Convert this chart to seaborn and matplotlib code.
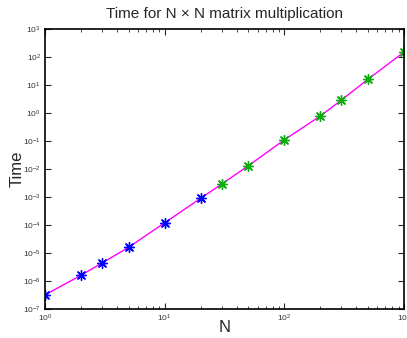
import numpy as np
import pandas as pd
import seaborn as sns
import matplotlib
matplotlib.use('Agg')
import matplotlib.pyplot as plt

# 행렬 크기 N 과 걸린 시간
n_blue = [1, 2, 3, 5, 10, 20]
t_blue = [3.2e-7, 1.6e-6, 4.4e-6, 1.6e-5, 1.2e-4, 9.0e-4]
n_green = [30, 50, 100, 200, 300, 500, 1000]
t_green = [2.9e-3, 1.3e-2, 0.11, 0.78, 2.9, 16, 150]

df_blue = pd.DataFrame({'N': n_blue, 'Time': t_blue})
df_green = pd.DataFrame({'N': n_green, 'Time': t_green})
df_all = pd.concat([df_blue, df_green], ignore_index=True)

sns.set_style('ticks')
plt.rcParams['font.family'] = ['Liberation Sans', 'DejaVu Sans']

fig = plt.figure(figsize=(4.07, 3.38), dpi=100)
ax = fig.add_axes([0.1106, 0.0858, 0.882, 0.8284])

sns.lineplot(data=df_all, x='N', y='Time', color='#ff00ff', linewidth=1, ax=ax, zorder=1)
sns.scatterplot(data=df_blue, x='N', y='Time', color='#0000ff', marker=(8, 2, 0), s=50,
                linewidth=1, edgecolor='#0000ff', ax=ax, zorder=2)
sns.scatterplot(data=df_green, x='N', y='Time', color='#11aa11', marker=(8, 2, 0), s=50,
                linewidth=1, edgecolor='#11aa11', ax=ax, zorder=2)

ax.set_xscale('log')
ax.set_yscale('log')
ax.set_xlim(1, 1000)
ax.set_ylim(1e-7, 1e3)
ax.set_yticks([10.0 ** k for k in range(-7, 4)])

for s in ax.spines.values():
    s.set_linewidth(1.2)
    s.set_color('black')
ax.tick_params(which='both', direction='in', top=True, right=True, labelsize=6, pad=3,
               labelcolor='#333333')
ax.tick_params(which='major', length=4)
ax.tick_params(which='minor', length=2)

ax.set_title('Time for N × N matrix multiplication', fontsize=11, pad=8)
ax.set_xlabel('N', fontsize=12, labelpad=-3)
ax.set_ylabel('Time', fontsize=12, labelpad=-1)

fig.savefig('out.png', dpi=100)
